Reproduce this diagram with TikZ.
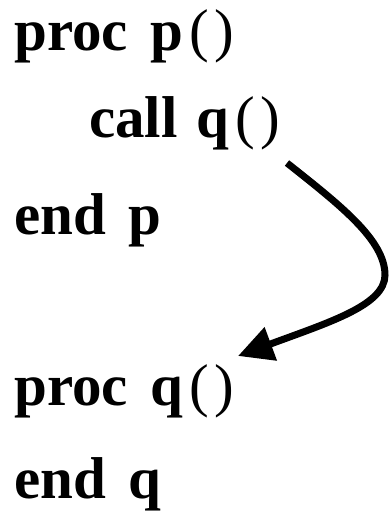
\documentclass[tikz,border=0pt]{standalone}
\usepackage{fontspec}
\setmainfont{Liberation Serif}
\usetikzlibrary{arrows.meta}
\newcommand{\wgap}{\hspace{23pt}}
\newcommand{\prs}{\hspace{6pt}{\mdseries(\hspace{5pt})}}
\begin{document}
\begin{tikzpicture}[x=1pt,y=-1pt,
  codeline/.style={anchor=base west,inner sep=0pt,font=\fontsize{59}{62}\selectfont\bfseries},
  callarrow/.style={line width=7pt,-{Triangle[length=35pt,width=34pt]}}]
\useasboundingbox (0,0) rectangle (388,516);
\node[codeline] (l1) at (14,51) {proc\wgap p\prs};
\node[codeline] (l2) at (89,137) {call\hspace{19pt}q\prs};
\node[codeline] (l3) at (14,234) {end\wgap p};
\node[codeline] (l4) at (14,405) {proc\wgap q\prs};
\node[codeline] (l5) at (14,498) {end\wgap q};
\coordinate (s) at (287,163);
\coordinate (m) at (385,275);
\coordinate (t) at (238,356);
\draw[callarrow] (s) .. controls (340,205) and (385,240) .. (m)
  .. controls (385,305) and (330,322) .. (t);
\end{tikzpicture}
\end{document}
